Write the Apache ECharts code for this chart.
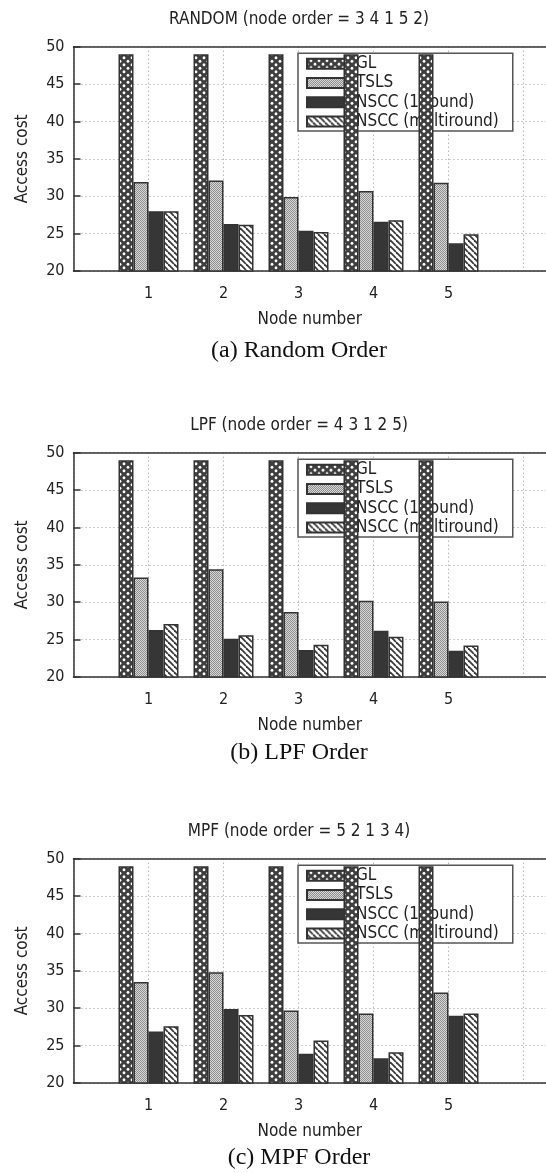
<!DOCTYPE html>
<html>
<head>
<meta charset="utf-8">
<script src="https://cdn.jsdelivr.net/npm/echarts@6/dist/echarts.min.js"></script>
<style>
  html, body { margin: 0; padding: 0; background: #fff; }
  #chart { width: 546px; height: 1173px; }
</style>
</head>
<body>
<div id="chart"></div>
<script>
// node numbers on the x axis
const nodes = [1, 2, 3, 4, 5];
const seriesNames = ['GL', 'TSLS', 'NSCC (1 round)', 'NSCC (multiround)'];

const plotTitles = [
  'RANDOM (node order = 3 4 1 5 2)',
  'LPF (node order = 4 3 1 2 5)',
  'MPF (node order = 5 2 1 3 4)'
];
const captions = ['(a) Random Order', '(b) LPF Order', '(c) MPF Order'];

// access cost per node 1..5
const randomGL = [49, 49, 49, 49, 49];
const randomTSLS = [31.9, 32.1, 29.9, 30.7, 31.8];
const randomNSCC1 = [28.0, 26.3, 25.4, 26.6, 23.7];
const randomNSCCm = [28.0, 26.2, 25.2, 26.8, 24.9];

const lpfGL = [49, 49, 49, 49, 49];
const lpfTSLS = [33.3, 34.4, 28.7, 30.2, 30.1];
const lpfNSCC1 = [26.3, 25.1, 23.6, 26.2, 23.5];
const lpfNSCCm = [27.1, 25.6, 24.3, 25.4, 24.2];

const mpfGL = [49, 49, 49, 49, 49];
const mpfTSLS = [33.5, 34.8, 29.7, 29.3, 32.1];
const mpfNSCC1 = [26.9, 29.9, 23.9, 23.3, 29.0];
const mpfNSCCm = [27.6, 29.1, 25.7, 24.1, 29.3];

const panels = [
  [randomGL, randomTSLS, randomNSCC1, randomNSCCm],
  [lpfGL, lpfTSLS, lpfNSCC1, lpfNSCCm],
  [mpfGL, mpfTSLS, mpfNSCC1, mpfNSCCm]
];

// fill patterns like the gnuplot ones
function makeTile(w, h, draw) {
  const c = document.createElement('canvas');
  c.width = w; c.height = h;
  draw(c.getContext('2d'));
  return c;
}
const glTile = makeTile(8, 7, ctx => {
  ctx.fillStyle = '#3e3e3e';
  ctx.fillRect(0, 0, 8, 7);
  ctx.fillStyle = '#fff';
  [[4, 1.75], [0, 5.25], [8, 5.25], [4, 8.75], [0, -1.75], [8, -1.75]].forEach(p => {
    ctx.beginPath();
    ctx.ellipse(p[0], p[1], 1.4, 1.6, 0, 0, Math.PI * 2);
    ctx.fill();
  });
});
const tslsTile = makeTile(2, 2, ctx => {
  ctx.fillStyle = '#d6d6d6';
  ctx.fillRect(0, 0, 2, 2);
  ctx.fillStyle = '#909090';
  ctx.fillRect(0, 0, 1, 1);
  ctx.fillRect(1, 1, 1, 1);
});
const multiTile = makeTile(6, 6, ctx => {
  ctx.fillStyle = '#fff';
  ctx.fillRect(0, 0, 6, 6);
  ctx.strokeStyle = '#3a3a3a';
  ctx.lineWidth = 1.8;
  [-6, 0, 6].forEach(o => {
    ctx.beginPath();
    ctx.moveTo(o, 0);
    ctx.lineTo(o + 6, 6);
    ctx.stroke();
  });
});

const fills = [
  { image: glTile, repeat: 'repeat' },
  { image: tslsTile, repeat: 'repeat' },
  '#363636',
  { image: multiTile, repeat: 'repeat' }
];

const font = '"DejaVu Sans Condensed", "DejaVu Sans", sans-serif';
const offsets = [0, 406, 812];
const captionY = [351, 753, 1158];
const axisColor = '#333';
const gridLine = { show: true, lineStyle: { color: '#999', type: [1, 3], width: 1 } };

const chart = echarts.init(document.getElementById('chart'));

const grid = [], xAxis = [], yAxis = [], legend = [], title = [], series = [];

panels.forEach((vals, k) => {
  const dy = offsets[k];
  grid.push({ left: 73.5, top: 46.7 + dy, right: 0, height: 224.3 });
  // bottom axis with node numbers
  xAxis.push({
    type: 'value', gridIndex: k, min: 0, max: 6.3, interval: 1,
    name: 'Node number', nameLocation: 'middle', nameGap: 40,
    nameTextStyle: { fontFamily: font, fontSize: 17, color: '#222' },
    axisLine: { lineStyle: { color: axisColor, width: 1.5 } },
    axisTick: { show: false },
    axisLabel: {
      fontFamily: font, fontSize: 16, color: '#222', margin: 15,
      showMaxLabel: false,
      formatter: v => (nodes.indexOf(v) >= 0 ? String(v) : '')
    },
    splitLine: gridLine
  });
  // top border of the plot
  xAxis.push({
    type: 'value', gridIndex: k, min: 0, max: 6.3, position: 'top',
    axisLine: { show: true, lineStyle: { color: axisColor, width: 1.5 } },
    axisTick: { show: false }, axisLabel: { show: false }, splitLine: { show: false }
  });
  yAxis.push({
    type: 'value', gridIndex: k, min: 20, max: 50, interval: 5,
    name: 'Access cost', nameLocation: 'middle', nameGap: 42,
    nameTextStyle: { fontFamily: font, fontSize: 17, color: '#222' },
    axisLine: { show: true, lineStyle: { color: axisColor, width: 1.5 } },
    axisTick: { show: true, inside: true, length: 7, lineStyle: { color: axisColor, width: 1.5 } },
    axisLabel: { fontFamily: font, fontSize: 16, color: '#222', margin: 9 },
    splitLine: gridLine
  });
  legend.push({
    orient: 'vertical', left: 298, top: 53.3 + dy, z: 1,
    data: seriesNames, selectedMode: false,
    itemWidth: 44, itemHeight: 10, itemGap: 2.2,
    padding: [2, 14, 1, 8],
    backgroundColor: '#fff', borderColor: '#555', borderWidth: 1.5, borderRadius: 0,
    icon: 'rect',
    textStyle: { fontFamily: font, fontSize: 17, color: '#222', lineHeight: 16 }
  });
  title.push({
    text: plotTitles[k], left: 299, top: 10 + dy, textAlign: 'center', padding: 0,
    textStyle: { fontFamily: font, fontSize: 17, fontWeight: 'normal', color: '#222', lineHeight: 20 }
  });
  title.push({
    text: captions[k], left: 299, top: captionY[k] - 14, textAlign: 'center', padding: 0,
    textStyle: { fontFamily: '"Liberation Serif", "Times New Roman", serif', fontSize: 24, fontWeight: 'normal', color: '#111', lineHeight: 28 }
  });
  vals.forEach((v, i) => {
    series.push({
      name: seriesNames[i], type: 'bar', xAxisIndex: 2 * k, yAxisIndex: k, z: 2,
      data: nodes.map((n, j) => [n, v[j]]),
      barWidth: 15, barGap: '0%',
      itemStyle: { color: fills[i], borderColor: '#333', borderWidth: 1.5 },
      emphasis: { disabled: true },
      animation: false
    });
  });
});

chart.setOption({
  animation: false,
  title: title,
  grid: grid,
  xAxis: xAxis,
  yAxis: yAxis,
  legend: legend,
  series: series
});

window.addEventListener('resize', () => chart.resize());
</script>
</body>
</html>
